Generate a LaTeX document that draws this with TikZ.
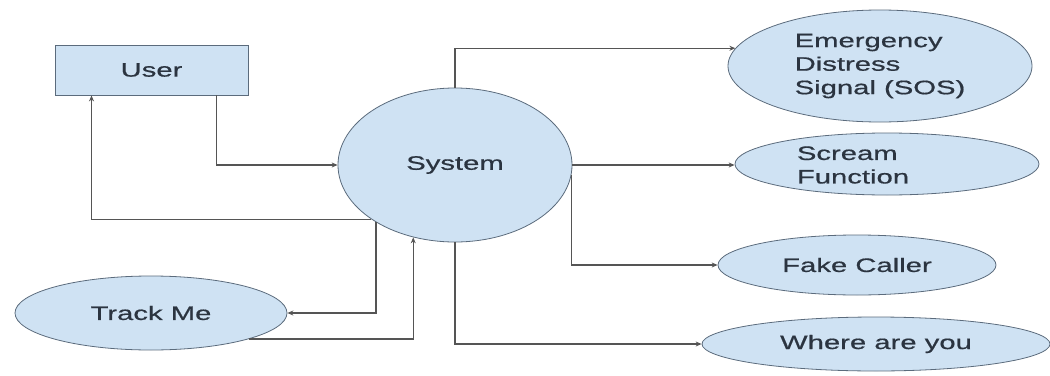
\documentclass[tikz,border=0pt]{standalone}
\usepackage{fontspec}
\usepackage{tikz}
\usetikzlibrary{shapes.geometric,arrows.meta}
\newfontfamily\diagfont[FakeStretch=1.5,FakeBold=0.6]{Liberation Sans}
\definecolor{boxblue}{HTML}{CFE2F3}
\definecolor{rimgray}{HTML}{5B6B7C}
\definecolor{linegray}{HTML}{555555}
\definecolor{inkdark}{HTML}{2B3440}

\begin{document}
\begin{tikzpicture}
[x=1pt,y=-1pt,
 every node/.style={font=\diagfont\fontsize{19.5}{23.5}\selectfont,text=inkdark},
 actor/.style={rectangle,draw=rimgray,fill=boxblue,thick,inner sep=0pt,minimum width=193pt,minimum height=50pt},
 proc/.style={ellipse,draw=rimgray,fill=boxblue,thick,inner sep=0pt},
 txt/.style={align=left,inner sep=0pt},
 flow/.style={draw=linegray,line width=1.3pt,-{Stealth[length=6pt,width=5pt]}},
 hv path/.style={to path={-| (\tikztotarget)}},
 vh path/.style={to path={|- (\tikztotarget)}}]
\useasboundingbox (0,0) rectangle (1050,375);
\node[actor] (user) at (151.5,70) {User};
\node[proc,minimum width=234pt,minimum height=154pt] (sys) at (455,165) {System};
\node[proc,minimum width=272pt,minimum height=74pt] (track) at (151,313) {Track Me};
\node[proc,minimum width=304pt,minimum height=112pt,align=left] (sos) at (880,66) {Emergency\\Distress\\Signal (SOS)};
\node[proc,minimum width=304pt,minimum height=62pt] (scream) at (887,164) {};
\node[txt] (scream-t) at (853,165) {Scream\\Function};
\node[proc,minimum width=278pt,minimum height=60pt] (fake) at (857,265) {Fake Caller};
\node[proc,minimum width=348pt,minimum height=54pt] (where) at (876,344) {Where are you};
\path ([xshift=65pt]user.south) edge[flow,vh path] (sys.west)
      (sys.213) edge[flow,hv path] ([xshift=-60pt]user.south)
      (sys.216) edge[flow,vh path] (track.east)
      (track.345) edge[flow,hv path] (sys.240)
      (sys.north) edge[flow,vh path] (sos.173)
      (sys.east) edge[flow] (sys.east -| scream.west)
      (sys.355) edge[flow,vh path] (fake.west)
      (sys.south) edge[flow,vh path] (where.west);
\end{tikzpicture}
\end{document}
